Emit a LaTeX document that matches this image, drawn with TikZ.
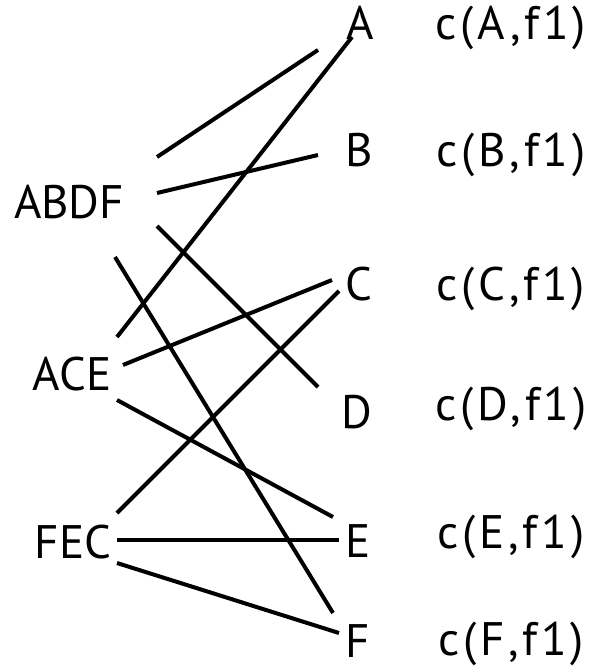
\documentclass[tikz,border=0pt]{standalone}
\usepackage{fontspec}
\setmainfont{PT Sans}
\newfontfamily\countfont[LetterSpace=8]{PT Sans}
\usetikzlibrary{positioning}

\begin{document}
\begin{tikzpicture}[
        x=1pt, y=-1pt,
        lbl/.style={inner sep=0pt, anchor=base, font=\fontsize{47}{56}\selectfont},
        cnt/.style={lbl, font=\fontsize{47}{56}\countfont},
        link/.style={line width=4pt, black}
    ]
    \useasboundingbox (0,0) rectangle (601,671);

    % groups on the left
    \node[lbl] (ABDF) at (69,218) {ABDF};
    \node[lbl] (ACE) at (72,390) {ACE};
    \node[lbl] (FEC) at (73,558) {FEC};

    % items on the right
    \node[lbl] (A) at (360,40) {A};
    \node[lbl] (B) at (359,167) {B};
    \node[lbl] (C) at (359,300) {C};
    \node[lbl] (D) at (357,428) {D};
    \node[lbl] (E) at (358,557) {E};
    \node[lbl] (F) at (358,657) {F};

    % counts
    \node[cnt] (cA) at (511,40) {c(A,f1)};
    \node[cnt] (cB) at (511,167) {c(B,f1)};
    \node[cnt] (cC) at (511,300) {c(C,f1)};
    \node[cnt] (cD) at (511,420) {c(D,f1)};
    \node[cnt] (cE) at (511,548) {c(E,f1)};
    \node[cnt] (cF) at (511,655) {c(F,f1)};

    \draw[link] ([shift={(88,-61)}]ABDF.base) -- ([shift={(-42,10)}]A.base);
    \draw[link] ([shift={(88,-25)}]ABDF.base) -- ([shift={(-41,-12)}]B.base);
    \draw[link] ([shift={(88,8)}]ABDF.base) -- ([shift={(-39,-41)}]D.base);
    \draw[link] ([shift={(46,39)}]ABDF.base) -- ([shift={(-25,-44)}]F.base);

    \draw[link] ([shift={(45,-53)}]ACE.base) -- ([shift={(-8,-3)}]A.base);
    \draw[link] ([shift={(51,-25)}]ACE.base) -- ([shift={(-27,-20)}]C.base);
    \draw[link] ([shift={(45,10)}]ACE.base) -- ([shift={(-25,-40)}]E.base);

    \draw[link] ([shift={(44,-45)}]FEC.base) -- ([shift={(-20,-9)}]C.base);
    \draw[link] ([shift={(44,-18)}]FEC.base) -- ([shift={(-19,-17)}]E.base);
    \draw[link] ([shift={(44,5)}]FEC.base) -- ([shift={(-19,-24)}]F.base);

\end{tikzpicture}
\end{document}
